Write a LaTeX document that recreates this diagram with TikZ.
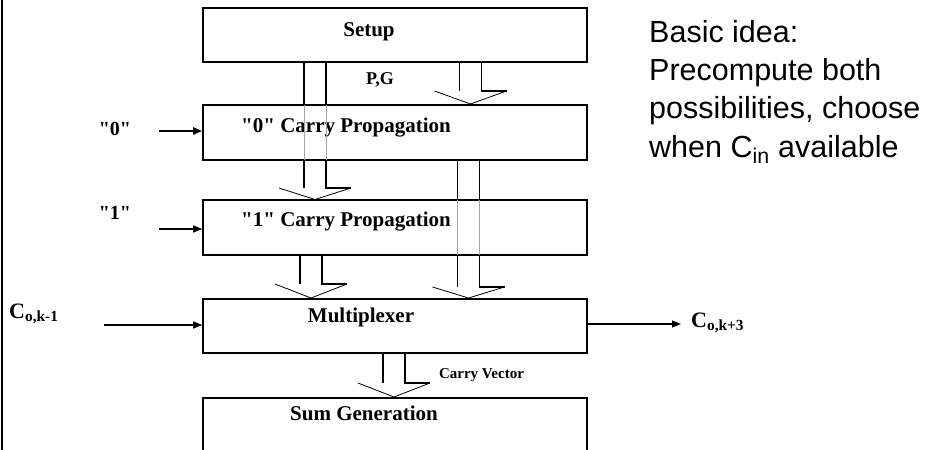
\documentclass[tikz,border=0pt]{standalone}
\usepackage{fontspec}
\setmainfont{Liberation Serif}[Ligatures=TeXOff]
\newfontfamily\arialfont{Liberation Sans}
\usetikzlibrary{arrows.meta}
\tikzset{
  stagebox/.style={draw, line width=1.6pt, rectangle, minimum width=384pt, inner sep=0pt},
  boxlabel/.style={font=\fontsize{21}{25}\selectfont\bfseries, inner sep=0pt},
  smalllabel/.style={font=\fontsize{15}{18}\selectfont\bfseries, inner sep=0pt},
  pglabel/.style={font=\fontsize{18}{21}\selectfont\bfseries, inner sep=0pt},
  sidelabel/.style={font=\fontsize{20}{24}\selectfont\bfseries, inner sep=0pt},
  carrylabel/.style={font=\fontsize{22}{26}\selectfont\bfseries, inner sep=0pt, anchor=west},
  notetext/.style={font=\arialfont\fontsize{30.5}{38}\selectfont, inner sep=0pt, anchor=base west},
  shaftline/.style={line width=1.6pt},
  passline/.style={line width=0.5pt, gray!70},
  headline/.style={line width=0.8pt},
  inarrow/.style={line width=1.3pt, -{Triangle[length=9pt,width=7pt]}},
  boldarrow/.style={line width=2.2pt, -{Triangle[length=9pt,width=7pt]}}
}
% #1 x centre, #2 shaft start, #3 head base, #4 tip, #5/#6 grey pass-through range
\newcommand\blockarrow[6]{%
  \draw[shaftline] (#1-11,#2) -- (#1-11,#5) (#1+11,#2) -- (#1+11,#5);
  \draw[passline] (#1-11,#5) -- (#1-11,#6) (#1+11,#5) -- (#1+11,#6);
  \draw[shaftline] (#1-11,#6) -- (#1-11,#3) (#1+11,#6) -- (#1+11,#3) -- (#1+36,#3);
  \draw[headline] (#1-36,#3) -- (#1,#4) -- (#1+36,#3);
}
\begin{document}
\begin{tikzpicture}[x=1pt,y=-1pt]
\clip (0,0) rectangle (935,450);
\fill[white] (0,0) rectangle (935,450);
\draw[line width=2pt] (1.5,0) -- (1.5,450);

% stage boxes
\node[stagebox, minimum height=54pt] (setup) at (395,35) {};
\node[stagebox, minimum height=55pt] (c0) at (395,132.5) {};
\node[stagebox, minimum height=55pt] (c1) at (395,227.5) {};
\node[stagebox, minimum height=54pt] (mux) at (395,326) {};
\node[stagebox, minimum height=64pt] (sum) at (395,430) {};

% box texts
\node[boxlabel] (tsetup) at (369,32) {Setup};
\node[boxlabel] (tc0) at (346,128) {"0" Carry Propagation};
\node[boxlabel] (tc1) at (346,222) {"1" Carry Propagation};
\node[boxlabel] (tmux) at (361,317) {Multiplexer};
\node[boxlabel] (tsum) at (364,413) {Sum Generation};

% block arrows
\blockarrow{470.5}{62}{91}{104}{62}{62}
\blockarrow{315}{62}{188}{199.5}{105}{160}
\blockarrow{468.5}{160}{287}{298}{200}{255}
\blockarrow{311}{255}{284}{298}{255}{255}
\blockarrow{394}{353}{383}{397}{353}{353}

\node[pglabel] (pg) at (380,80) {P,G};
\node[smalllabel] (cv) at (481.5,375) {Carry Vector};

% side inputs
\node[sidelabel] (l0) at (115,129) {"0"};
\node[sidelabel] (l1) at (115,213) {"1"};
\node[carrylabel] (lk) at (9,314) {C\textsubscript{o,k-1}};
\node[carrylabel] (rk) at (691,323) {C\textsubscript{o,k+3}};
\coordinate (s0) at (159,131);
\coordinate (s1) at (159,229);
\coordinate (sk) at (104,325);
\coordinate (ek) at (681,324);
\draw[boldarrow] (s0) -- (s0 -| c0.west);
\draw[inarrow] (s1) -- (s1 -| c1.west);
\draw[inarrow] (sk) -- (sk -| mux.west);
\draw[inarrow] (mux.east |- ek) -- (ek);

% note
\node[notetext] (n1) at (649,42) {Basic idea:};
\node[notetext] (n2) at (649,80) {Precompute both};
\node[notetext] (n3) at (649,118) {possibilities, choose};
\node[notetext] (n4) at (649,157) {when C\textsubscript{in} available};
\end{tikzpicture}
\end{document}
